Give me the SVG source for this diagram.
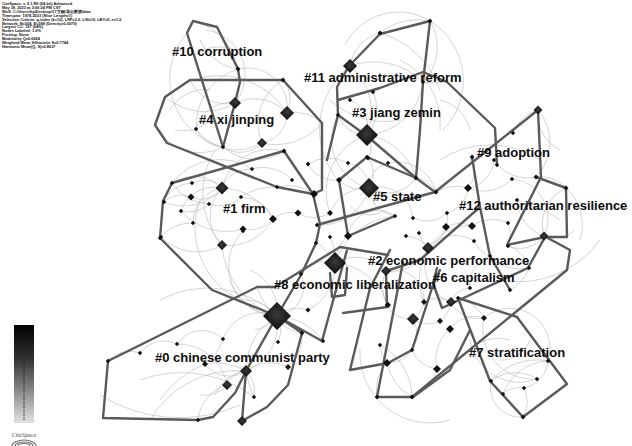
<svg xmlns="http://www.w3.org/2000/svg" width="632" height="446" viewBox="0 0 632 446">
<style>
.hdr{font-family:"Liberation Sans",Arial,sans-serif;font-size:3.9px;font-weight:bold;fill:#111}
.lbl{font-family:"Liberation Sans",Arial,sans-serif;font-size:13px;font-weight:bold;fill:#0d0d0d}
.hull{fill:none;stroke:#5a5a5a;stroke-width:2.4;stroke-linejoin:round;stroke-linecap:round}
.arc{fill:none;stroke:#c2c2c2;stroke-width:0.7}
.nd{fill:url(#ng)}
.sm{fill:#111}
</style>
<defs>
<radialGradient id="ng" cx="0.5" cy="0.45" r="0.6"><stop offset="0" stop-color="#3a3a3a"/><stop offset="1" stop-color="#0a0a0a"/></radialGradient>
<linearGradient id="bar" x1="0" y1="0" x2="0" y2="1"><stop offset="0" stop-color="#000"/><stop offset="0.35" stop-color="#333"/><stop offset="1" stop-color="#e2e2e2"/></linearGradient>
<path id="d" d="M0,-1 L1,0 L0,1 L-1,0 Z"/>
</defs>
<rect width="632" height="446" fill="#fff"/>

<g id="header">
<text class="hdr" x="2" y="5">CiteSpace, v. 6.1.R6 (64-bit) Advanced</text>
<text class="hdr" x="2" y="8.9">May 18, 2023 at 3:06:24 PM CST</text>
<text class="hdr" x="2" y="12.8">WoS: C:\Users\hp\Desktop\17文献\导出数据\data</text>
<text class="hdr" x="2" y="16.7">Timespan: 1978-2023 (Slice Length=1)</text>
<text class="hdr" x="2" y="20.6">Selection Criteria: g-index (k=10), LRF=2.0, L/N=10, LBY=5, e=1.0</text>
<text class="hdr" x="2" y="24.5">Network: N=304, E=388 (Density=0.0079)</text>
<text class="hdr" x="2" y="28.4">Largest CC: 197 (64%)</text>
<text class="hdr" x="2" y="32.3">Nodes Labeled: 1.0%</text>
<text class="hdr" x="2" y="36.2">Pruning: None</text>
<text class="hdr" x="2" y="40.1">Modularity Q=0.6664</text>
<text class="hdr" x="2" y="44">Weighted Mean Silhouette S=0.7744</text>
<text class="hdr" x="2" y="47.9">Harmonic Mean(Q, S)=0.8637</text>
</g>

<g id="links">
<path class="arc" d="M193,21 A60,60 0 0 1 238,69 M200,40 A50,50 0 0 0 238,69 M205,30 A45,45 0 0 1 235,103 M187,33 A70,70 0 0 0 223,147 M238,69 A40,40 0 0 1 287,113 M190,80 A40,40 0 0 0 235,103 M235,103 A45,45 0 0 1 287,113 M287,113 A30,30 0 0 1 262,143 M262,143 A30,30 0 0 1 223,147 M196,129 A35,35 0 0 1 235,103 M196,129 A50,50 0 0 0 262,143 M283,80 A30,30 0 0 1 287,113 M165,97 A60,60 0 0 0 235,103 M223,147 A50,50 0 0 0 284,151 M287,113 A40,40 0 0 1 322,123 M196,129 A30,30 0 0 0 223,147 M155,125 A50,50 0 0 0 223,147 M165,97 A80,80 0 0 1 287,113 M262,143 A60,60 0 0 0 322,123 M238,69 A60,60 0 0 0 196,129 M283,80 A50,50 0 0 0 262,143 M170,110 A40,40 0 0 1 210,90 M175,130 A40,40 0 0 0 215,115 M195,55 A40,40 0 0 1 235,50"/>
<path class="arc" d="M172,183 A40,40 0 0 1 222,188 M192,183 A25,25 0 0 1 222,188 M191,197 A25,25 0 0 0 222,188 M164,202 A25,25 0 0 1 191,197 M181,211 A35,35 0 0 1 222,188 M209,204 A30,30 0 0 0 241,197 M193,223 A35,35 0 0 1 222,188 M222,245 A40,40 0 0 1 222,188 M241,197 A35,35 0 0 1 273,219 M243,229 A30,30 0 0 0 273,219 M273,219 A30,30 0 0 1 298,213 M160,238 A40,40 0 0 1 193,223 M252,169 A30,30 0 0 0 222,188 M222,245 A80,80 0 0 0 277,316 M161,237 A50,50 0 0 0 222,245 M172,183 A45,45 0 0 0 209,204 M164,202 A50,50 0 0 0 222,188 M222,188 A60,60 0 0 1 273,219 M222,188 A50,50 0 0 1 284,151 M241,197 A60,60 0 0 1 277,187 M277,187 A40,40 0 0 1 313,194 M298,213 A30,30 0 0 0 330,213 M252,169 A40,40 0 0 1 292,180 M172,183 A60,60 0 0 1 252,169 M222,245 A50,50 0 0 0 273,219 M181,211 A60,60 0 0 0 243,229 M200,200 A80,80 0 0 0 240,300 M215,150 A80,80 0 0 0 222,245 M164,202 A30,30 0 0 1 192,183 M181,211 A30,30 0 0 0 209,204"/>
<path class="arc" d="M350,66 A60,60 0 0 1 367,135 M350,100 A30,30 0 0 1 367,135 M373,92 A40,40 0 0 1 367,135 M338,115 A30,30 0 0 0 367,135 M368,158 A20,20 0 0 0 367,135 M423,82 A60,60 0 0 1 367,135 M380,33 A40,40 0 0 0 350,66 M430,21 A50,50 0 0 1 423,82 M380,33 A60,60 0 0 1 430,21 M369,188 A25,25 0 0 0 348,163 M369,188 A30,30 0 0 1 339,180 M369,188 A25,25 0 0 1 388,163 M369,188 A30,30 0 0 0 395,216 M369,188 A35,35 0 0 1 413,218 M369,188 A35,35 0 0 0 416,178 M367,157 A25,25 0 0 1 369,188 M308,164 A30,30 0 0 0 339,180 M330,213 A40,40 0 0 1 369,188 M317,225 A50,50 0 0 0 369,188 M367,135 A60,60 0 0 1 416,178 M338,115 A50,50 0 0 0 369,188 M423,82 A70,70 0 0 0 447,82 M350,66 A70,70 0 0 1 423,82 M400,60 A70,70 0 0 1 440,130 M330,100 A80,80 0 0 0 400,120 M350,66 A80,80 0 0 0 338,180 M380,33 A90,90 0 0 1 440,90 M348,163 A40,40 0 0 0 308,164 M388,163 A40,40 0 0 1 436,192 M367,135 A60,60 0 0 0 330,213 M395,216 A30,30 0 0 0 348,236 M430,21 A70,70 0 0 1 443,130 M345,45 A60,60 0 0 1 430,21 M440,100 A40,40 0 0 1 470,130 M360,195 A20,20 0 0 1 390,200 M350,205 A25,25 0 0 0 385,210"/>
<path class="arc" d="M335,263 A40,40 0 0 1 386,271 M335,263 A30,30 0 0 0 301,274 M335,263 A40,40 0 0 1 347,236 M335,263 A50,50 0 0 0 317,243 M335,263 A50,50 0 0 1 308,310 M335,263 A60,60 0 0 1 388,305 M335,263 A50,50 0 0 0 330,237 M335,263 A70,70 0 0 1 395,216 M428,248 A30,30 0 0 0 406,236 M428,248 A30,30 0 0 1 419,233 M428,248 A35,35 0 0 0 446,227 M428,248 A35,35 0 0 1 474,241 M428,248 A40,40 0 0 1 386,271 M428,248 A40,40 0 0 0 451,302 M428,248 A50,50 0 0 1 472,226 M428,248 A60,60 0 0 0 424,302 M446,227 A30,30 0 0 1 472,226 M447,213 A20,20 0 0 1 446,227 M472,226 A35,35 0 0 1 508,223 M508,223 A30,30 0 0 1 508,246 M508,246 A30,30 0 0 0 544,236 M512,179 A40,40 0 0 1 544,236 M536,177 A35,35 0 0 1 566,188 M517,200 A40,40 0 0 0 544,236 M468,188 A30,30 0 0 1 447,213 M468,188 A40,40 0 0 0 512,179 M472,157 A30,30 0 0 1 468,188 M494,160 A30,30 0 0 1 468,188 M513,133 A40,40 0 0 1 538,110 M538,110 A50,50 0 0 1 536,177 M494,160 A40,40 0 0 0 536,177 M436,192 A40,40 0 0 1 468,188 M416,178 A30,30 0 0 1 436,192 M413,218 A30,30 0 0 0 447,213 M490,256 A30,30 0 0 1 474,241 M529,268 A30,30 0 0 0 508,246 M529,268 A40,40 0 0 1 490,256 M510,290 A40,40 0 0 0 529,268 M470,288 A30,30 0 0 1 490,256 M544,236 A40,40 0 0 1 566,188 M480,210 A80,80 0 0 1 560,220 M440,160 A90,90 0 0 1 540,160 M500,280 A100,100 0 0 0 600,240 M544,236 A30,30 0 0 0 575,230 M538,110 A40,40 0 0 0 560,150 M566,188 A50,50 0 0 1 580,240"/>
<path class="arc" d="M451,302 A20,20 0 0 1 470,288 M451,302 A25,25 0 0 0 424,302 M451,302 A30,30 0 0 1 440,321 M451,302 A30,30 0 0 0 484,318 M413,319 A25,25 0 0 1 387,305 M413,319 A25,25 0 0 0 440,321 M413,319 A30,30 0 0 1 412,350 M413,319 A30,30 0 0 0 424,302 M450,329 A30,30 0 0 1 484,318 M450,329 A40,40 0 0 0 437,369 M437,369 A30,30 0 0 1 412,350 M387,363 A30,30 0 0 0 412,350 M387,363 A35,35 0 0 1 380,345 M377,397 A40,40 0 0 1 387,363 M412,397 A40,40 0 0 0 437,369 M412,397 A50,50 0 0 1 387,363 M458,298 A40,40 0 0 1 484,318 M484,318 A40,40 0 0 1 548,361 M484,318 A50,50 0 0 0 537,379 M491,381 A40,40 0 0 1 537,379 M524,388 A30,30 0 0 0 548,361 M503,394 A25,25 0 0 1 524,388 M491,381 A30,30 0 0 0 523,417 M524,388 A30,30 0 0 1 523,417 M503,394 A50,50 0 0 1 548,361 M470,340 A50,50 0 0 0 537,379 M491,381 A60,60 0 0 1 548,361 M386,271 A30,30 0 0 1 424,302 M386,271 A40,40 0 0 0 387,305 M380,345 A60,60 0 0 1 412,397 M360,350 A70,70 0 0 0 450,420 M470,350 A40,40 0 0 1 510,340 M500,360 A30,30 0 0 0 530,340"/>
<path class="arc" d="M277,316 A50,50 0 0 1 243,231 M277,316 A30,30 0 0 0 301,274 M277,316 A30,30 0 0 1 308,310 M277,316 A30,30 0 0 0 302,333 M277,316 A30,30 0 0 1 278,342 M277,316 A40,40 0 0 0 223,339 M277,316 A50,50 0 0 1 246,371 M277,316 A60,60 0 0 0 254,397 M277,316 A60,60 0 0 1 257,287 M277,316 A40,40 0 0 0 240,300 M277,316 A50,50 0 0 1 230,280 M277,316 A45,45 0 0 0 250,270 M277,316 A60,60 0 0 1 323,341 M140,353 A30,30 0 0 1 177,344 M177,344 A30,30 0 0 1 223,339 M205,364 A30,30 0 0 0 246,371 M227,385 A20,20 0 0 1 246,371 M108,361 A30,30 0 0 1 140,353 M198,420 A40,40 0 0 1 227,385 M246,371 A40,40 0 0 1 288,367 M227,385 A50,50 0 0 0 177,344 M246,371 A60,60 0 0 0 205,364 M100,395 A150,150 0 0 0 240,405 M150,420 A100,100 0 0 1 246,371 M140,380 A120,120 0 0 1 254,397 M223,339 A50,50 0 0 1 205,364 M288,367 A40,40 0 0 0 302,333 M160,300 A100,100 0 0 1 277,316 M246,371 A30,30 0 0 1 254,397 M205,364 A100,100 0 0 0 160,400 M246,371 A40,40 0 0 0 215,395 M227,385 A30,30 0 0 1 200,395 M277,316 A35,35 0 0 1 255,330"/>
</g>

<g id="hulls">
<path class="hull" d="M187,33 L193,21 L217,27 L238,69 L240,82 L235,103 L223,147 Z"/>
<path class="hull" d="M190,80 L283,80 L322,123 L322,190 L313,194 L277,187 L167,143 L155,125 L165,97 Z"/>
<path class="hull" d="M172,183 L284,151 L313,194 L320,224 L316,243 L301,275 L277,316 L212,290 L160,238 L163,201 Z"/>
<path class="hull" d="M103,418 L108,361 L257,287 L275,287 L340,247 L388,255 M103,418 L198,420 L213,417 L235,393 L246,371 L277,316 M246,371 L242,421 L267,407 L288,385 L302,333 L277,316 L322,341 L347,250"/>
<path class="hull" d="M349,66 L380,34 L430,21 L423,82 L420,130 L416,178 L367,136 L338,115 L337,87 Z"/>
<path class="hull" d="M338,100 L380,88 L423,72 L447,82 L495,128 L497,165"/>
<path class="hull" d="M327,160 L338,115"/>
<path class="hull" d="M339,180 L367,157 L416,178 L435,192 L538,110 L541,177 L507,245 L545,237 L567,237 L566,188 L536,177"/>
<path class="hull" d="M317,225 L435,192"/>
<path class="hull" d="M339,180 L348,236 L395,216"/>
<path class="hull" d="M472,157 L480,207 L420,260 L386,271"/>
<path class="hull" d="M330,273 L332,297 L345,295 L347,268"/>
<path class="hull" d="M343,313 L387,307 L386,271"/>
<path class="hull" d="M390,250 L370,288 L350,370 L388,363 L412,350 L433,285 L440,270"/>
<path class="hull" d="M403,262 L377,397 L413,397 L450,370 L470,330"/>
<path class="hull" d="M412,397 L567,270 L570,250 L544,236"/>
<path class="hull" d="M442,308 L433,283 L437,268 M442,308 L528,268 L545,237"/>
<path class="hull" d="M458,298 L517,317 L567,384 L523,417 L490,381 Z"/>
<path class="hull" d="M480,207 L490,256 L510,290"/>
</g>

<g id="nodes">
<g class="nd">
<use href="#d" transform="translate(277,316) scale(14)"/>
<use href="#d" transform="translate(335,263) scale(11)"/>
<use href="#d" transform="translate(367,135) scale(11)"/>
<use href="#d" transform="translate(369,188) scale(10)"/>
<use href="#d" transform="translate(350,66) scale(7)"/>
<use href="#d" transform="translate(287,113) scale(7)"/>
<use href="#d" transform="translate(235,103) scale(6)"/>
<use href="#d" transform="translate(222,188) scale(6.5)"/>
<use href="#d" transform="translate(428,248) scale(6)"/>
<use href="#d" transform="translate(262,143) scale(5)"/>
<use href="#d" transform="translate(413,319) scale(6)"/>
<use href="#d" transform="translate(386,271) scale(5)"/>
<use href="#d" transform="translate(451,302) scale(5)"/>
<use href="#d" transform="translate(246,371) scale(6)"/>
<use href="#d" transform="translate(227,385) scale(5)"/>
<use href="#d" transform="translate(242,421) scale(5)"/>
<use href="#d" transform="translate(538,110) scale(4.5)"/>
<use href="#d" transform="translate(544,236) scale(4.5)"/>
<use href="#d" transform="translate(222,245) scale(5)"/>
</g>
<g class="sm">
<use href="#d" transform="translate(387,363) scale(4)"/>
<use href="#d" transform="translate(437,369) scale(4)"/>
<use href="#d" transform="translate(450,329) scale(4)"/>
<use href="#d" transform="translate(468,188) scale(4)"/>
<use href="#d" transform="translate(446,227) scale(4)"/>
<use href="#d" transform="translate(472,226) scale(4)"/>
<use href="#d" transform="translate(348,236) scale(4)"/>
<use href="#d" transform="translate(314,194) scale(4)"/>
<use href="#d" transform="translate(298,213) scale(3.5)"/>
<use href="#d" transform="translate(273,219) scale(4)"/>
<use href="#d" transform="translate(243,229) scale(3.5)"/>
<use href="#d" transform="translate(191,197) scale(3.5)"/>
<use href="#d" transform="translate(339,180) scale(3)"/>
<use href="#d" transform="translate(388,305) scale(3)"/>
<use href="#d" transform="translate(424,302) scale(3)"/>
<use href="#d" transform="translate(440,321) scale(3)"/>
<use href="#d" transform="translate(484,318) scale(3)"/>
<use href="#d" transform="translate(205,364) scale(3)"/>
<use href="#d" transform="translate(288,367) scale(3)"/>
<use href="#d" transform="translate(330,213) scale(3)"/>
<use href="#d" transform="translate(308,310) scale(2.5)"/>
</g>
<g class="sm">
<use href="#d" transform="translate(380,33) scale(2.4)"/>
<use href="#d" transform="translate(430,21) scale(2.4)"/>
<use href="#d" transform="translate(238,69) scale(2.4)"/>
<use href="#d" transform="translate(283,80) scale(2.4)"/>
<use href="#d" transform="translate(196,129) scale(2.2)"/>
<use href="#d" transform="translate(223,147) scale(2.2)"/>
<use href="#d" transform="translate(284,151) scale(2.4)"/>
<use href="#d" transform="translate(350,100) scale(2.2)"/>
<use href="#d" transform="translate(373,92) scale(2.2)"/>
<use href="#d" transform="translate(338,115) scale(2.2)"/>
<use href="#d" transform="translate(368,158) scale(2.4)"/>
<use href="#d" transform="translate(423,82) scale(2.2)"/>
<use href="#d" transform="translate(513,133) scale(2.2)"/>
<use href="#d" transform="translate(472,157) scale(2.4)"/>
<use href="#d" transform="translate(494,160) scale(2.2)"/>
<use href="#d" transform="translate(308,164) scale(2.4)"/>
<use href="#d" transform="translate(348,163) scale(2.2)"/>
<use href="#d" transform="translate(388,163) scale(2.2)"/>
<use href="#d" transform="translate(416,178) scale(2.4)"/>
<use href="#d" transform="translate(436,192) scale(2.4)"/>
<use href="#d" transform="translate(512,179) scale(2.2)"/>
<use href="#d" transform="translate(536,177) scale(2.4)"/>
<use href="#d" transform="translate(566,188) scale(2.4)"/>
<use href="#d" transform="translate(517,200) scale(2.2)"/>
<use href="#d" transform="translate(395,216) scale(2.2)"/>
<use href="#d" transform="translate(413,218) scale(2.2)"/>
<use href="#d" transform="translate(447,213) scale(2.2)"/>
<use href="#d" transform="translate(508,223) scale(2.2)"/>
<use href="#d" transform="translate(317,225) scale(2.2)"/>
<use href="#d" transform="translate(330,237) scale(2.2)"/>
<use href="#d" transform="translate(316,243) scale(2.2)"/>
<use href="#d" transform="translate(406,236) scale(2.2)"/>
<use href="#d" transform="translate(419,233) scale(2.2)"/>
<use href="#d" transform="translate(474,241) scale(2.2)"/>
<use href="#d" transform="translate(508,246) scale(2.2)"/>
<use href="#d" transform="translate(529,268) scale(2.2)"/>
<use href="#d" transform="translate(510,290) scale(2.2)"/>
<use href="#d" transform="translate(490,256) scale(2.2)"/>
<use href="#d" transform="translate(470,288) scale(2.2)"/>
<use href="#d" transform="translate(458,298) scale(2.2)"/>
<use href="#d" transform="translate(387,305) scale(2.2)"/>
<use href="#d" transform="translate(412,350) scale(2.2)"/>
<use href="#d" transform="translate(548,361) scale(2.2)"/>
<use href="#d" transform="translate(537,379) scale(2.2)"/>
<use href="#d" transform="translate(491,381) scale(2.2)"/>
<use href="#d" transform="translate(524,388) scale(2.2)"/>
<use href="#d" transform="translate(503,394) scale(2.2)"/>
<use href="#d" transform="translate(412,397) scale(2.4)"/>
<use href="#d" transform="translate(523,417) scale(2.4)"/>
<use href="#d" transform="translate(377,397) scale(2.4)"/>
<use href="#d" transform="translate(380,345) scale(2.2)"/>
<use href="#d" transform="translate(161,237) scale(2.2)"/>
<use href="#d" transform="translate(243,231) scale(2.2)"/>
<use href="#d" transform="translate(347,236) scale(2.2)"/>
<use href="#d" transform="translate(301,274) scale(2.2)"/>
<use href="#d" transform="translate(302,333) scale(2.4)"/>
<use href="#d" transform="translate(323,341) scale(2.2)"/>
<use href="#d" transform="translate(278,342) scale(2.2)"/>
<use href="#d" transform="translate(223,339) scale(2.2)"/>
<use href="#d" transform="translate(177,344) scale(2.2)"/>
<use href="#d" transform="translate(140,353) scale(2.2)"/>
<use href="#d" transform="translate(108,361) scale(2.2)"/>
<use href="#d" transform="translate(254,397) scale(2.2)"/>
<use href="#d" transform="translate(198,420) scale(2.2)"/>
<use href="#d" transform="translate(172,183) scale(2.2)"/>
<use href="#d" transform="translate(192,183) scale(2.2)"/>
<use href="#d" transform="translate(164,202) scale(2.2)"/>
<use href="#d" transform="translate(209,204) scale(2.2)"/>
<use href="#d" transform="translate(181,211) scale(2.2)"/>
<use href="#d" transform="translate(241,197) scale(2.2)"/>
<use href="#d" transform="translate(193,223) scale(2.2)"/>
<use href="#d" transform="translate(160,238) scale(2.2)"/>
<use href="#d" transform="translate(277,187) scale(2.2)"/>
<use href="#d" transform="translate(252,169) scale(2.2)"/>
<use href="#d" transform="translate(292,180) scale(2.2)"/>
<use href="#d" transform="translate(497,165) scale(2.2)"/>
<use href="#d" transform="translate(367,157) scale(2.2)"/>
</g>
</g>

<g id="labels">
<text class="lbl" x="172" y="56">#10 corruption</text>
<text class="lbl" x="304" y="82">#11 administrative reform</text>
<text class="lbl" x="199" y="124">#4 xi jinping</text>
<text class="lbl" x="352" y="117">#3 jiang zemin</text>
<text class="lbl" x="477" y="157">#9 adoption</text>
<text class="lbl" x="373" y="201">#5 state</text>
<text class="lbl" x="459" y="210">#12 authoritarian resilience</text>
<text class="lbl" x="223" y="213">#1 firm</text>
<text class="lbl" x="368" y="265">#2 economic performance</text>
<text class="lbl" x="433" y="282">#6 capitalism</text>
<text class="lbl" x="274" y="289">#8 economic liberalization</text>
<text class="lbl" x="155" y="362">#0 chinese communist party</text>
<text class="lbl" x="469" y="357">#7 stratification</text>
</g>

<g id="legend">
<rect x="14" y="325" width="20" height="98" fill="url(#bar)"/>
<line x1="24" y1="345" x2="24" y2="421" stroke="#222" stroke-width="2" stroke-dasharray="1 1" opacity="0.55"/>
<text x="24" y="437" text-anchor="middle" font-family="Liberation Serif,serif" font-size="6" font-style="italic" font-weight="bold" fill="#888">CiteSpace</text>
<path d="M12,446 A12,6 0 0 1 36,446 M15,446 A9,4 0 0 1 33,446 M18,446 A6,2.5 0 0 1 30,446" fill="none" stroke="#777" stroke-width="1.2"/>
</g>
</svg>
